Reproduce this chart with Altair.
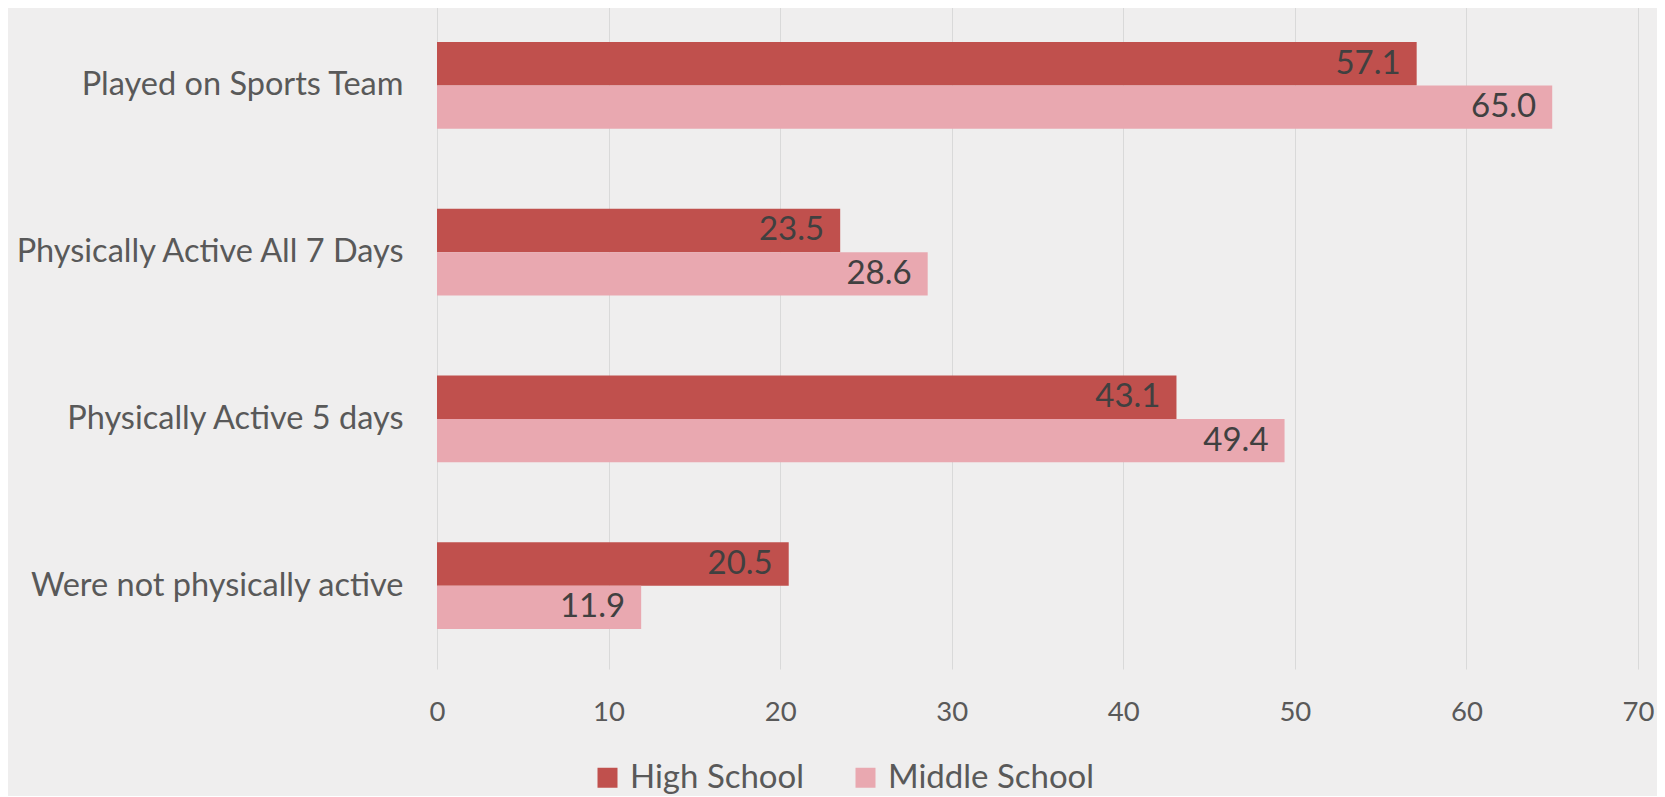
import altair as alt
import pandas as pd

categories = ["Played on Sports Team", "Physically Active All 7 Days",
              "Physically Active 5 days", "Were not physically active"]
high_school = [57.1, 23.5, 43.1, 20.5]
middle_school = [65.0, 28.6, 49.4, 11.9]
series = ["High School", "Middle School"]
colors = ["#C0504D", "#E9A8B0"]
x_ticks = [0, 10, 20, 30, 40, 50, 60, 70]

rows = []
for c, h, m in zip(categories, high_school, middle_school):
    rows.append({"category": c, "series": series[0], "value": h})
    rows.append({"category": c, "series": series[1], "value": m})
df = pd.DataFrame(rows)

FONT = "Lato"

y = alt.Y("category:N", sort=categories,
          scale=alt.Scale(paddingInner=0.48, paddingOuter=0.24),
          axis=alt.Axis(title=None, labelFont=FONT, labelFontSize=32.5,
                        labelColor="#595959", labelPadding=34, ticks=False,
                        tickSize=0, domain=False, labelLimit=0, grid=False))
yoff = alt.YOffset("series:N", sort=series,
                   scale=alt.Scale(paddingInner=0, paddingOuter=0))
x = alt.X("value:Q", scale=alt.Scale(domain=[0, 70], nice=False),
          axis=alt.Axis(values=x_ticks, title=None, grid=True,
                        gridColor="#d9d9d9", gridWidth=1, domain=False,
                        ticks=False, tickSize=0, labelPadding=43,
                        labelFlush=False, labelOverlap=False,
                        labelBaseline="middle", labelFont=FONT,
                        labelFontSize=27.5, labelColor="#595959"))
color = alt.Color("series:N", sort=series,
                  scale=alt.Scale(domain=series, range=colors),
                  legend=alt.Legend(title=None, orient="none", legendX=154,
                                    legendY=759, direction="horizontal",
                                    symbolType="square", symbolSize=400,
                                    symbolStrokeWidth=0, labelFont=FONT,
                                    labelFontSize=33, labelColor="#595959",
                                    labelLimit=0, columnPadding=44,
                                    labelOffset=6))

bars = alt.Chart(df).mark_bar().encode(y=y, yOffset=yoff, x=x, color=color)
labels = alt.Chart(df).mark_text(align="right", baseline="middle", dx=-16,
                                 font=FONT, fontSize=33, color="#404040").encode(
    y=alt.Y("category:N", sort=categories), yOffset=yoff, x=alt.X("value:Q"),
    text=alt.Text("value:Q", format=".1f"))

chart = alt.layer(bars, labels).properties(
    width=1201, height=667,
    autosize=alt.AutoSizeParams(type="none"),
    padding={"left": 429, "top": -6, "right": 19, "bottom": 127},
    background="#efeeee",
).configure_view(stroke=None)

chart.save("out.html", embed_options={"renderer": "svg", "actions": False})
